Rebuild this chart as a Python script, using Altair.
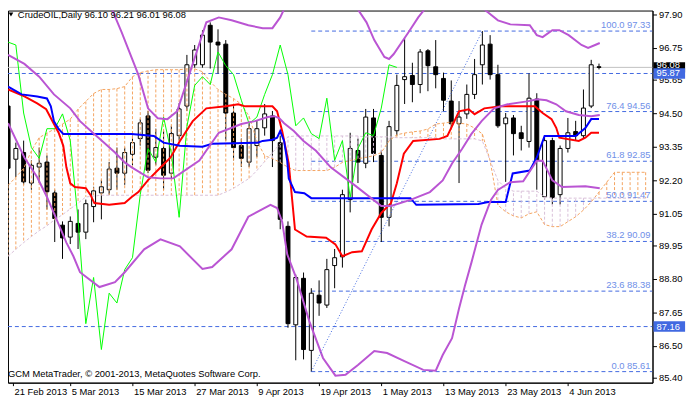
import altair as alt
import pandas as pd

# ---------------- data ----------------
date_labels = ["21 Feb 2013", "5 Mar 2013", "15 Mar 2013", "27 Mar 2013", "9 Apr 2013",
               "19 Apr 2013", "1 May 2013", "13 May 2013", "23 May 2013", "4 Jun 2013"]

opens = [94.75, 92.92, 93.15, 92.10, 92.65, 92.82, 91.76, 90.65, 90.24, 90.71,
         90.41, 91.29, 91.76, 91.87, 92.61, 92.44, 93.09, 93.63, 94.41, 92.99,
         93.29, 92.44, 93.73, 94.75, 96.17, 96.17, 97.53, 96.95, 96.88, 94.51,
         93.39, 92.82, 93.39, 94.00, 94.41, 93.49, 90.61, 87.22, 88.82, 86.34,
         88.24, 87.90, 89.26, 89.56, 91.53, 93.22, 92.78, 94.34, 93.05, 90.92,
         93.90, 95.66, 95.80, 95.49, 96.65, 96.10, 95.70, 94.92, 94.14, 94.48,
         95.15, 96.17, 96.88, 95.83, 94.14, 94.34, 93.83, 93.53, 94.99, 91.63,
         93.56, 91.70, 93.29, 93.87, 93.73, 94.75, 96.10]
highs = [94.92, 93.49, 93.56, 92.88, 93.32, 93.05, 91.87, 90.78, 90.95, 91.19,
         91.53, 91.97, 92.21, 92.82, 93.32, 93.32, 93.73, 94.31, 94.58, 93.97,
         93.90, 94.07, 94.85, 96.51, 96.85, 97.36, 97.63, 97.39, 97.02, 94.82,
         93.63, 94.14, 94.24, 94.82, 94.58, 93.73, 90.78, 88.95, 89.02, 88.48,
         88.75, 89.49, 89.83, 91.87, 93.83, 93.63, 94.65, 94.65, 93.22, 94.24,
         95.83, 97.09, 96.24, 96.71, 96.71, 97.02, 95.90, 95.63, 94.92, 95.49,
         96.37, 97.33, 97.19, 96.17, 94.51, 94.44, 94.07, 95.87, 95.19, 93.73,
         93.66, 93.39, 94.34, 94.24, 95.32, 96.34, 96.21]
lows = [92.48, 92.31, 92.04, 91.87, 92.10, 91.19, 90.07, 89.49, 90.00, 89.83,
        90.17, 90.75, 90.85, 91.70, 91.87, 92.04, 92.71, 93.39, 92.44, 92.71,
        91.87, 92.27, 93.56, 94.58, 96.07, 96.07, 96.04, 95.87, 93.56, 92.88,
        92.65, 92.65, 92.99, 93.73, 92.65, 90.51, 87.12, 86.00, 86.03, 85.61,
        87.53, 87.80, 88.48, 89.19, 91.09, 92.10, 92.61, 92.82, 90.07, 90.61,
        93.73, 94.82, 94.88, 95.19, 95.26, 95.36, 94.58, 93.97, 92.10, 94.31,
        94.99, 95.49, 95.66, 94.00, 92.14, 93.05, 93.22, 93.32, 91.87, 91.53,
        91.36, 91.36, 93.15, 93.56, 93.63, 94.68, 96.01]
closes = [92.61, 93.29, 92.14, 92.71, 92.78, 91.80, 90.88, 90.21, 90.78, 90.41,
          91.39, 91.83, 91.97, 92.58, 92.44, 93.15, 93.49, 94.17, 92.54, 93.32,
          92.37, 93.80, 94.65, 96.17, 96.68, 97.19, 96.95, 96.85, 94.51, 93.32,
          92.95, 93.97, 93.97, 94.48, 93.56, 90.85, 87.26, 88.85, 86.37, 88.31,
          87.97, 89.12, 89.53, 91.70, 93.29, 92.82, 94.37, 93.12, 90.92, 94.04,
          95.46, 95.76, 95.49, 96.61, 96.14, 95.83, 94.95, 94.14, 94.37, 95.15,
          95.83, 96.85, 95.83, 94.07, 94.34, 93.80, 93.63, 95.02, 92.88, 93.56,
          91.60, 93.29, 93.83, 93.73, 94.68, 96.17, 96.08]

tenkan_i = [0, 2.1, 3.75, 4.9, 5.9, 6.5, 7.1, 7.5, 8, 8.6, 10, 10.6, 11.1, 13, 15, 15.9,
            16.75, 18, 19.25, 20.9, 22.1, 23.75, 25.5, 28, 29.6, 30.5, 34, 34.6, 35.25,
            36.1, 36.9, 38.4, 40.9, 42.1, 43, 44.25, 45.5, 46.75, 48, 49.25, 50, 50.9,
            52.1, 55.5, 56.5, 57.1, 58, 59.25, 60, 61.25, 63.4, 67.75, 68.75, 69.9,
            70.5, 70.9, 73.4, 74.25, 75, 76]
tenkan_v = [95.32, 95.08, 94.84, 94.64, 94.13, 93.83, 93.38, 92.64, 92.09, 91.96, 91.92,
            91.69, 91.41, 91.35, 91.41, 91.62, 91.79, 92.20, 92.54, 92.98, 93.55, 94.23,
            94.67, 94.74, 94.81, 94.74, 94.74, 94.57, 93.89, 92.77, 90.50, 90.26, 90.22,
            89.99, 89.58, 89.72, 89.75, 90.50, 91.07, 91.41, 92.09, 93.11, 93.55, 93.62,
            93.72, 94.06, 94.57, 94.64, 94.47, 94.67, 94.74, 94.74, 94.51, 94.30, 94.00,
            93.66, 93.55, 93.66, 93.83, 93.83]

kijun_i = [0, 1.75, 3.75, 5, 5.5, 5.9, 6.5, 7.1, 15.9, 18.75, 20, 22.1, 25, 26.25, 32.1,
           32.75, 34, 34.6, 35, 35.5, 35.9, 36.1, 36.9, 38.1, 39, 51.75, 52.5, 60.5,
           61.75, 64, 64.9, 67.1, 68, 69, 73, 74.25, 75, 76]
kijun_v = [95.42, 95.15, 95.08, 95.01, 94.74, 94.23, 93.96, 93.79, 93.79, 93.72, 93.49,
           93.38, 93.35, 93.45, 93.49, 93.55, 93.59, 93.66, 93.89, 93.55, 92.87, 92.26,
           91.79, 91.75, 91.58, 91.58, 91.35, 91.38, 91.45, 91.45, 92.43, 92.53, 92.98,
           93.72, 93.72, 93.99, 94.30, 94.30]

bb_up_i = [0, 5.9, 9.25, 11.75, 13, 14.6, 16.75, 18, 19.25, 20.5, 21.75, 23, 24.25, 25.5,
           27.1, 28.75, 30.9, 32.75, 34, 35, 35.9, 38, 40, 42, 44.4, 46.1, 47.1, 48.4, 49,
           49.6, 51.5, 52.75, 54.25, 56.9, 59.6, 60.9, 61.75, 63, 64.6, 67.1, 68, 68.75,
           70, 70.9, 72.1, 73.75, 74.6, 75.5, 76.1]
bb_up_v = [98.85, 99.46, 99.43, 98.78, 98.31, 97.29, 95.83, 94.67, 94.33, 94.30, 94.57,
           95.59, 96.61, 97.63, 97.80, 97.70, 97.53, 97.43, 97.43, 97.80, 98.31, 99.30,
           99.70, 99.60, 98.31, 97.63, 97.02, 96.44, 96.37, 96.54, 97.29, 97.80, 98.31,
           98.58, 98.21, 98.14, 97.97, 97.70, 97.56, 97.53, 97.19, 97.12, 97.36, 97.36,
           97.19, 96.85, 96.75, 96.85, 96.92]

bb_mid_i = [0, 2.1, 4, 5.9, 8, 9.25, 10.9, 12.1, 13.75, 15, 15.9, 18, 19.6, 21.25, 24.6,
            27.1, 30, 31.75, 33.4, 34.25, 34.9, 35.5, 36.75, 38, 39.6, 41.5, 44.6, 48,
            49.25, 51.75, 54.25, 55.9, 57.1, 58.4, 59.6, 60.9, 62.5, 64.25, 66.75, 68.1,
            69.25, 70.5, 71.75, 73.4, 75, 76.1]
bb_mid_v = [96.51, 96.20, 95.76, 95.15, 94.67, 94.23, 93.83, 93.55, 93.15, 92.81, 92.64,
            92.30, 92.26, 92.26, 92.87, 93.83, 94.13, 94.23, 94.37, 94.40, 94.33, 94.16,
            93.89, 93.55, 93.21, 92.64, 92.02, 91.31, 91.31, 91.52, 91.79, 92.19, 92.77,
            93.28, 93.79, 94.23, 94.67, 94.81, 94.91, 94.98, 94.95, 94.81, 94.57, 94.44,
            94.40, 94.44]

bb_low_i = [0, 2.1, 3.75, 5, 6.25, 7.5, 8.4, 9.25, 11.75, 13.75, 15, 17.5, 19.6, 22.1, 25,
            26.25, 28.75, 30.9, 33.75, 34.6, 35.25, 35.9, 37.1, 38.75, 40.5, 42.1, 43.4,
            45, 47.1, 48.75, 50.9, 53.4, 55, 55.9, 57.1, 58, 58.75, 59.6, 60.9, 62.1, 63,
            64.6, 66.25, 68, 68.75, 70, 71.25, 74.25, 76.1]
bb_low_v = [94.16, 92.98, 92.30, 91.62, 90.84, 90.05, 89.58, 89.03, 88.52, 88.69, 89.03,
            89.82, 90.16, 89.92, 89.14, 89.21, 89.82, 90.94, 91.35, 91.24, 90.77, 89.65,
            88.80, 87.34, 86.08, 85.47, 85.50, 85.84, 86.32, 86.25, 85.98, 85.67, 85.64,
            86.18, 86.76, 87.78, 88.56, 89.37, 90.67, 91.52, 91.86, 92.13, 92.16, 92.87,
            92.87, 92.19, 91.96, 91.99, 91.92]

# Senkou spans, one value per bar 0..82
span_a = [92.02, 92.30, 92.60, 93.21, 93.66, 93.82, 93.96, 94.13, 94.30, 94.64,
          94.91, 95.18, 95.32, 95.32, 95.35, 95.42, 95.76, 95.90, 95.96, 96.00,
          96.00, 96.00, 96.00, 96.03, 96.03, 95.93, 95.59, 95.32, 95.15, 95.01,
          94.81, 94.40, 93.55, 93.04, 92.94, 92.81, 92.64, 92.53, 92.53, 92.53,
          92.53, 92.53, 92.64, 92.81, 92.87, 92.94, 92.98, 93.04, 93.15, 93.55,
          93.76, 93.82, 93.86, 93.89, 93.96, 94.13, 94.16, 94.20, 94.16, 94.13,
          93.99, 93.79, 92.87, 91.34, 91.11, 90.97, 90.90, 91.04, 91.11, 90.67,
          90.60, 90.60, 90.77, 90.94, 91.17, 91.45, 91.79, 92.13, 92.47, 92.47,
          92.47, 92.47, 92.47]
span_b = [89.58, 89.82, 90.05, 90.26, 90.46, 90.63, 90.84, 91.01, 91.21, 91.41,
          91.62, 91.65, 91.68, 91.68, 91.68, 91.68, 91.68, 91.68, 91.68, 91.68,
          91.68, 91.68, 91.68, 91.68, 91.68, 91.68, 91.68, 91.68, 91.79, 91.92,
          92.09, 92.26, 92.53, 92.84, 93.15, 93.45, 93.69, 93.72, 93.72, 93.72,
          93.72, 93.72, 93.72, 93.72, 93.72, 93.72, 93.69, 93.69, 93.69, 93.69,
          93.66, 93.66, 93.66, 93.66, 93.66, 93.66, 93.62, 93.62, 93.62, 93.62,
          93.62, 93.55, 92.87, 92.19, 91.92, 91.82, 91.82, 91.82, 91.82, 91.62,
          91.58, 91.58, 91.58, 91.58, 91.58, 91.58, 91.58, 91.58, 91.58, 91.58,
          91.58, 91.58, 91.58]

fib_pct = [0.0, 23.6, 38.2, 50.0, 61.8, 76.4, 100.0]
fib_price = [85.61, 88.38, 90.09, 91.47, 92.85, 94.56, 97.33]
fib_from_bar = 39
fib_to_bar = 61
hline_prices = [95.87, 87.16]
bid_price = 96.08
y_ticks = [97.90, 96.75, 95.65, 94.50, 93.35, 92.20, 91.05, 89.95, 88.80, 87.65, 86.50, 85.40]
title_text = "CrudeOIL,Daily  96.10 96.21 96.01 96.08"
copyright_text = "GCM MetaTrader, \u00a9 2001-2013, MetaQuotes Software Corp."

# ---------------- chart ----------------
W, H = 653, 377
FONT = "Liberation Sans"
FS = 9.5
ROYAL = "#4169E1"

xs = alt.Scale(domain=[0.625, 82.25], nice=False, zero=False)
ys = alt.Scale(domain=[85.23, 98.036], nice=False, zero=False)

label_list = "[" + ",".join("'%s'" % d for d in date_labels) + "]"
x_axis = alt.Axis(values=[0.65] + [8 * k for k in range(1, len(date_labels))],
                  labelExpr=label_list + "[round(datum.value / 8)]",
                  title=None, grid=False, tickSize=3, labelPadding=1,
                  labelAlign="left", labelBaseline="top", labelOffset=1,
                  labelFlush=False, labelOverlap=False, domainColor="black",
                  tickColor="black", labelColor="black", labelFont=FONT,
                  labelFontSize=FS)
y_axis = alt.Axis(orient="right", values=y_ticks, format=".2f", title=None,
                  grid=False, tickSize=4, labelPadding=2, labelAlign="left",
                  labelBaseline="middle", domainColor="black", tickColor="black",
                  labelColor="black", labelFont=FONT, labelFontSize=FS)


def X(f="i"):
    return alt.X(f + ":Q", scale=xs, axis=x_axis)


def Y(f="v"):
    return alt.Y(f + ":Q", scale=ys, axis=y_axis)


bars = pd.DataFrame({"i": list(range(len(opens))), "o": opens, "h": highs,
                     "l": lows, "c": closes})
n_ch = len(closes) - 26
chikou = pd.DataFrame({"i": list(range(n_ch)), "v": closes[26:]})
cloud = pd.DataFrame({"i": list(range(len(span_a))), "a": span_a, "b": span_b})


def line_df(ix, vals):
    return pd.DataFrame({"i": ix, "v": vals})


fib = pd.DataFrame({"i": [fib_from_bar] * len(fib_price), "v": fib_price,
                    "t": ["%.1f %.2f" % (p, v) for p, v in zip(fib_pct, fib_price)]})
fib_trend = pd.DataFrame({"i": [fib_from_bar, fib_to_bar],
                          "v": [fib_price[0], fib_price[-1]]})
hl = pd.DataFrame({"v": hline_prices})
bid = pd.DataFrame({"v": [bid_price]})

layers = []

# bid line
layers.append(alt.Chart(bid).mark_rule(color="#C0C0C0", strokeWidth=1, clip=True)
              .encode(x=alt.value(0), x2=alt.value(W), y=Y()))
# horizontal lines
layers.append(alt.Chart(hl).mark_rule(color=ROYAL, strokeWidth=1, strokeDash=[4, 3], clip=True)
              .encode(x=alt.value(0), x2=alt.value(W), y=Y()))
# fibo levels
layers.append(alt.Chart(fib).mark_rule(color=ROYAL, strokeWidth=1, strokeDash=[4, 3], clip=True)
              .encode(x=X(), x2=alt.value(W), y=Y()))

# candles
layers.append(alt.Chart(bars).mark_rule(color="black", strokeWidth=1, clip=True)
              .encode(x=X(), y=Y("l"), y2="h:Q"))
layers.append(alt.Chart(bars).mark_bar(size=4, stroke="black", strokeWidth=1, clip=True)
              .encode(x=X(), y=Y("o"), y2="c:Q",
                      fill=alt.condition("datum.c >= datum.o", alt.value("white"),
                                         alt.value("black"))))

# Ichimoku cloud hatching and spans
layers.append(alt.Chart(cloud).mark_rule(strokeWidth=1, strokeDash=[3, 2], clip=True)
              .encode(x=X(), y=Y("a"), y2="b:Q",
                      color=alt.condition("datum.a >= datum.b", alt.value("#F4A460"),
                                          alt.value("#D8BFD8"))))
layers.append(alt.Chart(cloud).mark_line(color="#F4A460", strokeWidth=1, strokeDash=[3, 2], clip=True)
              .encode(x=X(), y=Y("a")))
layers.append(alt.Chart(cloud).mark_line(color="#D8BFD8", strokeWidth=1, strokeDash=[3, 2], clip=True)
              .encode(x=X(), y=Y("b")))

# Ichimoku lines
layers.append(alt.Chart(chikou).mark_line(color="#00FF00", strokeWidth=1, clip=True)
              .encode(x=X(), y=Y()))
layers.append(alt.Chart(line_df(tenkan_i, tenkan_v)).mark_line(color="#FF0000", strokeWidth=2, clip=True)
              .encode(x=X(), y=Y()))
layers.append(alt.Chart(line_df(kijun_i, kijun_v)).mark_line(color="#0000FF", strokeWidth=2, clip=True)
              .encode(x=X(), y=Y()))

# Bollinger bands
for ix, vals in [(bb_up_i, bb_up_v), (bb_mid_i, bb_mid_v), (bb_low_i, bb_low_v)]:
    layers.append(alt.Chart(line_df(ix, vals)).mark_line(color="#BA55D3", strokeWidth=2, clip=True)
                  .encode(x=X(), y=Y()))

# fibo trend line and labels
layers.append(alt.Chart(fib_trend).mark_line(color=ROYAL, strokeWidth=1, strokeDash=[1, 2], clip=True)
              .encode(x=X(), y=Y()))
layers.append(alt.Chart(fib).mark_text(align="right", baseline="bottom", dy=-1, font=FONT,
                                       fontSize=FS, color="#6F8FE8")
              .encode(x=alt.value(W - 2), y=Y(), text="t:N"))

# header / footer texts
layers.append(alt.Chart(pd.DataFrame({"t": ["x"]})).mark_point(shape="triangle-down", filled=True,
                                                              size=22, color="black", opacity=1)
              .encode(x=alt.value(3), y=alt.value(4)))
layers.append(alt.Chart(pd.DataFrame({"t": [title_text]})).mark_text(
    align="left", baseline="middle", font=FONT, fontSize=FS, color="black")
    .encode(x=alt.value(10), y=alt.value(5), text="t:N"))
layers.append(alt.Chart(pd.DataFrame({"t": [copyright_text]})).mark_text(
    align="left", baseline="middle", font=FONT, fontSize=FS, color="black")
    .encode(x=alt.value(0), y=alt.value(368), text="t:N"))

# price boxes on the axis: each box followed by its own text, so later boxes cover earlier ones
box_specs = [(bid_price, "black", -2), (hline_prices[0], ROYAL, 0), (hline_prices[1], ROYAL, 0)]
for price, bg, shift in box_specs:
    bdf = pd.DataFrame({"v": [price], "t": ["%.2f" % price]})
    layers.append(alt.Chart(bdf).mark_rect(color=bg)
                  .transform_calculate(top="datum.v + 0.18", bot="datum.v - 0.18")
                  .encode(x=alt.value(654), x2=alt.value(686), y=Y("top"), y2="bot:Q"))
    layers.append(alt.Chart(bdf).mark_text(align="left", baseline="middle", font=FONT,
                                           fontSize=FS, color="white", dy=shift)
                  .encode(x=alt.value(657), y=Y(), text="t:N"))

chart = alt.layer(*layers).properties(
    width=W, height=H,
    autosize=alt.AutoSizeParams(type="none"),
    padding={"left": 0, "top": 0, "right": 40, "bottom": 16},
    background="white",
).configure_view(stroke="black", strokeWidth=1)

chart.save("out.html", embed_options={"renderer": "svg", "actions": False})
